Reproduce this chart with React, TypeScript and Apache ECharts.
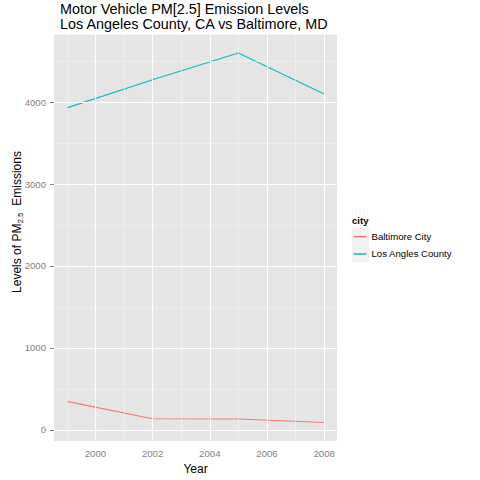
import React, { useEffect, useRef } from "react";
import * as echarts from "echarts";

const years = [1999, 2002, 2005, 2008];
const baltimore = [346.82, 134.31, 130.43, 88.28];
const losAngeles = [3931.12, 4274.03, 4601.41, 4101.32];
const seriesNames = ["Baltimore City", "Los Angles County"];
const xTicks = [2000, 2002, 2004, 2006, 2008];
const xMinor = [1999, 2001, 2003, 2005, 2007];
const yTicks = [0, 1000, 2000, 3000, 4000];
const yMinor = [500, 1500, 2500, 3500, 4500];

const FONT = "'Liberation Sans', Arial, Helvetica, sans-serif";

export default function App() {
  const ref = useRef<HTMLDivElement>(null);
  useEffect(() => {
    if (!ref.current) return;
    const chart = echarts.init(ref.current, null, { renderer: "svg" });
    const allY = [...baltimore, ...losAngeles];
    const yLo = Math.min(...allY), yHi = Math.max(...allY);
    const yPad = (yHi - yLo) * 0.05;
    const xLo = Math.min(...years), xHi = Math.max(...years);
    const xPad = (xHi - xLo) * 0.05;

    const minorStyle = { color: "#F2F2F2", width: 0.6, type: "solid" };
    const majorStyle = { color: "#FFFFFF", width: 1.1, type: "solid" };
    const gridLines = [
      ...xMinor.map((v) => ({ xAxis: v, lineStyle: minorStyle })),
      ...yMinor.map((v) => ({ yAxis: v, lineStyle: minorStyle })),
      ...xTicks.map((v) => ({ xAxis: v, lineStyle: majorStyle })),
      ...yTicks.map((v) => ({ yAxis: v, lineStyle: majorStyle })),
    ];

    chart.setOption({
      animation: false,
      backgroundColor: "#FFFFFF",
      textStyle: { fontFamily: FONT },
      title: {
        text: "Motor Vehicle PM[2.5] Emission Levels\nLos Angeles County, CA vs Baltimore, MD",
        left: 60,
        top: 1,
        padding: 0,
        textStyle: { fontFamily: FONT, fontSize: 14.4, fontWeight: "normal", color: "#000000", lineHeight: 15 },
      },
      grid: {
        left: 54,
        top: 34.5,
        width: 283,
        height: 408.5,
        show: true,
        backgroundColor: "#E5E5E5",
        borderWidth: 0,
        containLabel: false,
      },
      xAxis: {
        type: "value",
        min: xLo - xPad,
        max: xHi + xPad,
        axisLine: { show: false },
        axisTick: { show: true, length: 4, lineStyle: { color: "#7F7F7F", width: 1 }, customValues: xTicks },
        axisLabel: { color: "#7F7F7F", fontSize: 9.6, fontFamily: FONT, margin: 7, customValues: xTicks, formatter: (v: number) => String(v) },
        splitLine: { show: false },
        name: "Year",
        nameLocation: "middle",
        nameGap: 22,
        nameTextStyle: { color: "#000000", fontSize: 12, fontFamily: FONT },
      },
      yAxis: {
        type: "value",
        min: yLo - yPad,
        max: yHi + yPad,
        axisLine: { show: false },
        axisTick: { show: true, length: 4, lineStyle: { color: "#7F7F7F", width: 1 }, customValues: yTicks },
        axisLabel: { color: "#7F7F7F", fontSize: 9.6, fontFamily: FONT, margin: 8, customValues: yTicks, formatter: (v: number) => String(v) },
        splitLine: { show: false },
      },
      legend: {
        orient: "vertical",
        left: 353.5,
        top: 228,
        padding: 0,
        itemGap: 0,
        itemWidth: 13,
        itemHeight: 1.4,
        icon: "rect",
        data: seriesNames,
        textStyle: { fontFamily: FONT, fontSize: 9.6, color: "#000000", lineHeight: 17.3 },
      },
      graphic: [
        { type: "rect", left: 352, top: 228, shape: { width: 17, height: 17 }, style: { fill: "#F2F2F2" }, z: -1 },
        { type: "rect", left: 352, top: 245.3, shape: { width: 17, height: 17 }, style: { fill: "#F2F2F2" }, z: -1 },
        { type: "text", left: 352, top: 215, style: { text: "city", fontFamily: FONT, fontSize: 9.6, fontWeight: "bold", fill: "#000000" } },
        {
          type: "text",
          x: 17,
          y: 222,
          rotation: Math.PI / 2,
          style: {
            text: "{a|Levels of PM}{s|2.5}{a|  Emissions}",
            align: "center",
            verticalAlign: "middle",
            rich: {
              a: { fontFamily: FONT, fontSize: 12, lineHeight: 14, fill: "#000000", verticalAlign: "middle" },
              s: { fontFamily: FONT, fontSize: 8, lineHeight: 8, fill: "#000000", verticalAlign: "bottom" },
            },
          },
        },
      ],
      series: [
        {
          name: "__grid",
          type: "line",
          data: [[years[0], 0]],
          showSymbol: false,
          symbol: "none",
          lineStyle: { opacity: 0 },
          silent: true,
          z: 1,
          markLine: { silent: true, symbol: "none", label: { show: false }, data: gridLines, animation: false },
        },
        {
          name: seriesNames[0],
          type: "line",
          data: years.map((y, i) => [y, baltimore[i]]),
          showSymbol: false,
          symbol: "none",
          color: "#F8766D",
          lineStyle: { color: "#F8766D", width: 1.1 },
          z: 3,
        },
        {
          name: seriesNames[1],
          type: "line",
          data: years.map((y, i) => [y, losAngeles[i]]),
          showSymbol: false,
          symbol: "none",
          color: "#00BFC4",
          lineStyle: { color: "#00BFC4", width: 1.1 },
          z: 3,
        },
      ],
    });
    return () => chart.dispose();
  }, []);
  return <div ref={ref} style={{ position: "fixed", left: 0, top: 0, width: 480, height: 480 }} />;
}
